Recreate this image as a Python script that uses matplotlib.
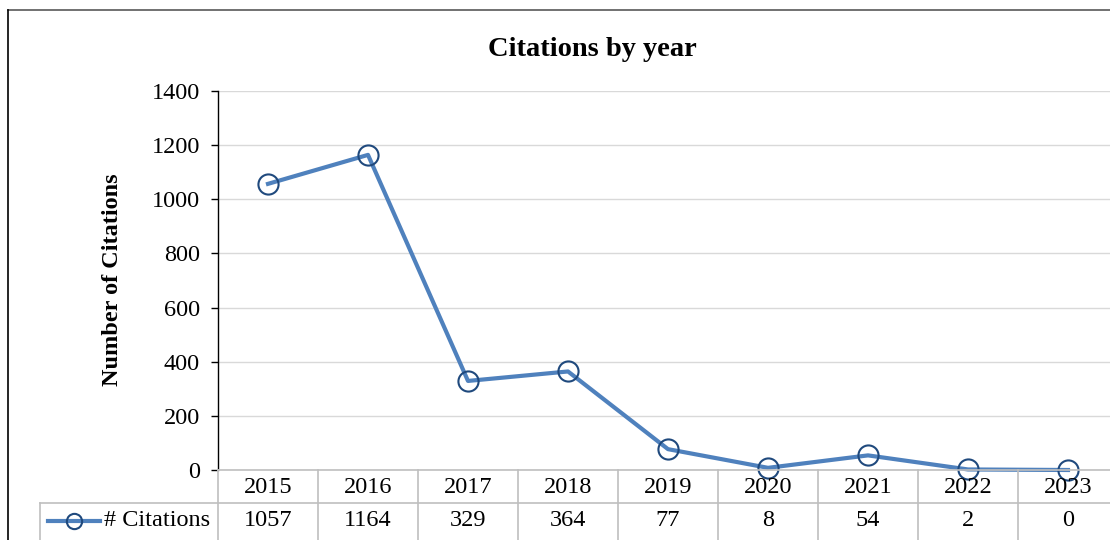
#!/usr/bin/env python3
import matplotlib.pyplot as plt
from matplotlib.lines import Line2D

YEARS = ['2015', '2016', '2017', '2018', '2019', '2020', '2021', '2022', '2023']
CITATIONS = [1057, 1164, 329, 364, 77, 8, 54, 2, 0]
SERIES_NAME = '# Citations'
TITLE = 'Citations by year'
YLABEL = 'Number of Citations'
YTICKS = [0, 200, 400, 600, 800, 1000, 1200, 1400]

LINE_COLOR = '#4F81BD'
MARKER_EDGE = '#1F497D'
GRID_COLOR = '#D9D9D9'
TABLE_COLOR = '#BFBFBF'
W, H = 1110, 540


def fx(px):
    return px / W


def fy(py):
    return 1 - py / H


def main():
    plt.rcParams['font.family'] = ['Liberation Serif', 'DejaVu Serif']
    fig = plt.figure(figsize=(W / 100, H / 100), dpi=100)

    # plot area runs a little past the right edge, like the source
    ax = fig.add_axes([fx(218), fy(470), fx(1118 - 218), fy(91) - fy(470)])
    xs = list(range(len(YEARS)))
    ax.plot(xs, CITATIONS, color=LINE_COLOR, lw=3.0, zorder=3,
            marker='o', ms=14.5, mfc='none', mec=MARKER_EDGE, mew=1.5,
            clip_on=False)
    ax.set_xlim(-0.5, len(YEARS) - 0.5)
    ax.set_ylim(0, 1400)
    ax.set_yticks(YTICKS)
    ax.set_xticks([])
    ax.tick_params(axis='y', labelsize=17.5, length=5, width=1, pad=8)
    ax.grid(axis='y', color=GRID_COLOR, lw=1)
    ax.set_axisbelow(True)
    for s in ['top', 'right', 'bottom']:
        ax.spines[s].set_visible(False)
    ax.spines['left'].set_color('black')
    ax.spines['left'].set_linewidth(1)

    fig.text(fx(592), fy(50), TITLE, ha='center', va='center',
             fontsize=20.5, fontweight='bold')
    fig.text(fx(112), fy(280), YLABEL, ha='center', va='center',
             rotation=90, fontsize=17.5, fontweight='bold')

    # data table under the plot
    row_top, row_mid, row_bot = 470, 503, 540
    x_left = 218
    for i, (yr, val) in enumerate(zip(YEARS, CITATIONS)):
        cx = x_left + 100 * i + 50
        fig.text(fx(cx), fy((row_top + row_mid) / 2 + 1), yr,
                 ha='center', va='center', fontsize=17.5)
        fig.text(fx(cx), fy((row_mid + row_bot) / 2 - 1), str(val),
                 ha='center', va='center', fontsize=17.5)
    lines = [
        [(x_left, W), (row_top, row_top)],
        [(40, W), (row_mid, row_mid)],
        [(40, 40), (row_mid, row_bot)],
    ]
    for i in range(len(YEARS) + 1):
        x = x_left + 100 * i
        lines.append([(x, x), (row_top, row_bot)])
    for (xa, xb), (ya, yb) in lines:
        fig.add_artist(Line2D([fx(xa), fx(xb)], [fy(ya), fy(yb)],
                              color=TABLE_COLOR, lw=1.2))

    # legend key inside the table
    ly = fy((row_mid + row_bot) / 2 - 1)
    fig.add_artist(Line2D([fx(48), fx(100)], [ly, ly], color=LINE_COLOR, lw=3.0))
    fig.add_artist(Line2D([fx(74)], [ly], marker='o', ms=11, mfc='none',
                          mec=MARKER_EDGE, mew=1.5))
    fig.text(fx(104), ly, SERIES_NAME, ha='left', va='center', fontsize=17.5)

    # chart frame
    fig.add_artist(Line2D([fx(8), fx(W)], [fy(10), fy(10)], color='#595959', lw=1.2))
    fig.add_artist(Line2D([fx(8), fx(8)], [fy(10), fy(H)], color='black', lw=1.2))

    fig.savefig('out.png', dpi=100)


if __name__ == '__main__':
    main()
